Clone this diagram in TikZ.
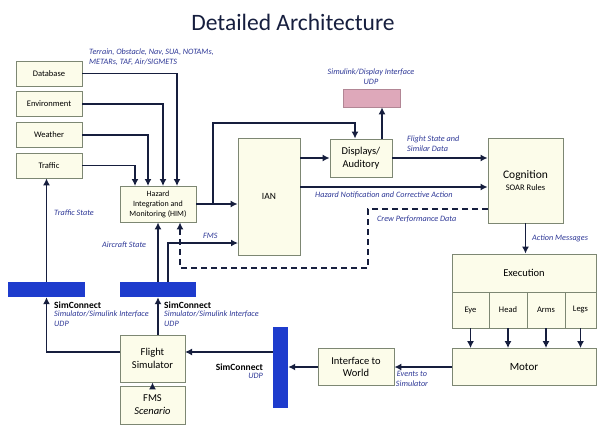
\documentclass[tikz,border=0pt]{standalone}
\usepackage{fontspec}
\setmainfont{Carlito}
\usetikzlibrary{arrows.meta,calc}
\definecolor{Dcream}{RGB}{252,252,234}
\definecolor{Dedge}{RGB}{125,135,115}
\definecolor{Dnavy}{RGB}{22,30,62}
\definecolor{Dtext}{RGB}{45,55,150}
\definecolor{Dblue}{RGB}{30,60,205}
\definecolor{Dpink}{RGB}{222,168,186}
\tikzset{%
    Dbox/.style={draw=Dedge, fill=Dcream, line width=0.8pt, inner sep=1pt, align=center, font=\fontsize{8.5}{10.5}\selectfont},
    Dbar/.style={fill=#1, inner sep=0pt}, Dbar/.default={Dblue},
    Dflow/.style={draw=Dnavy, line width=1.5pt, -{Latex[length=7pt,width=7pt]}},
    Ddash/.style={Dflow, dash pattern=on 6pt off 4pt},
    Dlabel/.style={text=Dtext, font=\fontsize{8.2}{10}\selectfont\itshape, inner sep=0pt, align=left},
    Dsim/.style={font=\fontsize{9.5}{11}\selectfont\bfseries, inner sep=0pt}
}

\begin{document}
\begin{tikzpicture}[x=1pt,y=-1pt]
    \useasboundingbox (0,0) rectangle (597,425);

    \node[font=\fontsize{23.5}{26}\selectfont, text=Dnavy] (title) at (293,22) {Detailed Architecture};

    % sources ("left column")
    \node[Dbox, minimum width=66pt, minimum height=25pt] (db)  at (49,73.5)  {Database};
    \node[Dbox, minimum width=66pt, minimum height=25pt] (env) at (49,104)   {Environment};
    \node[Dbox, minimum width=66pt, minimum height=25pt] (wx)  at (49,135)   {Weather};
    \node[Dbox, minimum width=66pt, minimum height=25pt] (trf) at (49,165.5) {Traffic};

    % processing blocks
    \node[Dbox, minimum width=76pt, minimum height=36pt, font=\fontsize{8}{10}\selectfont] (him) at (158,204)
        {Hazard\\Integration and\\Monitoring (HIM)};
    \node[Dbox, minimum width=62pt, minimum height=117pt, font=\fontsize{9.5}{11}\selectfont] (ian) at (269,196.5) {IAN};
    \node[Dbox, minimum width=62pt, minimum height=38pt, font=\fontsize{10.5}{12.5}\selectfont] (disp) at (361,158) {Displays/\\Auditory};
    \node[Dbar=Dpink, draw=Dpink!80!black, line width=0.6pt, minimum width=57pt, minimum height=18pt] (udp) at (371.5,98) {};
    \node[Dbox, minimum width=75pt, minimum height=85pt] (cog) at (525.5,180.5)
        {{\fontsize{11.5}{13}\selectfont Cognition}\\[1pt]SOAR Rules};

    % execution and motor
    \node[Dbox, minimum width=144pt, minimum height=38pt, font=\fontsize{10.5}{12}\selectfont] (exec) at (524,273) {Execution};
    \node[Dbox, minimum width=37pt, minimum height=36pt] (eye)  at (470.5,310) {Eye};
    \node[Dbox, minimum width=38pt, minimum height=36pt] (head) at (508,310)   {Head};
    \node[Dbox, minimum width=38pt, minimum height=36pt] (arms) at (546,310)   {Arms};
    \node[Dbox, minimum width=31pt, minimum height=36pt] (legs) at (580.5,310) {Legs};
    \node[Dbox, minimum width=144pt, minimum height=37pt, font=\fontsize{11}{13}\selectfont] (motor) at (524,367) {Motor};
    \node[Dbox, minimum width=76pt, minimum height=37pt, font=\fontsize{10.5}{12.5}\selectfont] (itw) at (356,367) {Interface to\\World};

    % simulator side
    \node[Dbar, minimum width=15pt, minimum height=81pt] (vbar) at (280.5,367) {};
    \node[Dbox, minimum width=65pt, minimum height=47pt, font=\fontsize{10.5}{12.5}\selectfont] (fs) at (152.5,358.5) {Flight\\Simulator};
    \node[Dbox, minimum width=65pt, minimum height=38pt, font=\fontsize{10.5}{13}\selectfont] (fms) at (152.5,405) {FMS\\\textit{Scenario}};
    \node[Dbar, minimum width=77pt, minimum height=15pt] (lbar) at (46.5,289.5) {};
    \node[Dbar, minimum width=76pt, minimum height=15pt] (mbar) at (158,289.5) {};

    % entry and turning points
    \path
        (177,186) coordinate (hA)
        (163,186) coordinate (hB)
        (148,186) coordinate (hC)
        (135,186) coordinate (hD)
        (213,204) coordinate (Nbr)
        (355,123) coordinate (Ntop)
        (382,139) coordinate (Nup)
        (300,187) coordinate (Nhaz)
        (488,209) coordinate (Ncrew)
        (368,268) coordinate (Nd1)
        (180,268) coordinate (Nd2)
        (185,352) coordinate (NfsR)
        (120,352) coordinate (NfsL)
        (168,282) coordinate (Nfms)
        (238,243) coordinate (Nfmsi);

    % connectors
    \foreach \cS/\cE in {db/hA, env/hB, wx/hC, trf/hD}
        \draw[Dflow] (\cS) -| (\cE);
    \draw[Dflow] (him.east) -- (him.east -| ian.west);
    \draw[Dflow] (Nbr) |- (Ntop) -- (Ntop |- disp.north);
    \draw[Dflow] (ian.east |- disp.west) -- (disp.west);
    \draw[Dflow] (Nup) -- (Nup |- udp.south);
    \draw[Dflow] (disp.east) -- (disp.east -| cog.west);
    \draw[Dflow] (Nhaz) -- (Nhaz -| cog.west);
    \draw[Ddash] (Ncrew) -| (Nd1) -- (Nd2) -- (Nd2 |- him.south);
    \draw[Dflow] (cog.south) -- (cog.south |- exec.north);
    \foreach \c in {eye,head,arms,legs}
        \draw[Dflow] (\c.south) -- (\c.south |- motor.north);
    \draw[Dflow] (motor) -- (itw);
    \draw[Dflow] (itw) -- (vbar);
    \draw[Dflow] (NfsR -| vbar.west) -- (NfsR);
    \draw[Dflow] (NfsL) -| (lbar.south);
    \draw[Dflow] (lbar.north) -- (lbar.north |- trf.south);
    \draw[Dflow] (mbar.south |- fs.north) -- (mbar.south);
    \draw[Dflow] (mbar.north) -- (mbar.north |- him.south);
    \draw[Dflow] (Nfms) |- (Nfmsi);
    \draw[Dflow] (fms) -- (fs);

    % labels
    \node[Dlabel, anchor=north west] (lsrc) at (89,49) {Terrain, Obstacle, Nav, SUA, NOTAMs,\\METARs, TAF, Air/SIGMETS};
    \node[Dlabel, align=center] (ludp) at (371,77) {Simulink/Display Interface\\UDP};
    \node[Dlabel, anchor=west] (lfsd) at (407,144) {Flight State and\\Similar Data};
    \node[Dlabel, anchor=west] (lhaz) at (315,195) {Hazard Notification and Corrective Action};
    \node[Dlabel, anchor=west] (lcrew) at (377,219) {Crew Performance Data};
    \node[Dlabel, anchor=west] (lact) at (532,238) {Action Messages};
    \node[Dlabel, anchor=west] (ltrf) at (54,213) {Traffic State};
    \node[Dlabel, anchor=west] (lacs) at (102,245) {Aircraft State};
    \node[Dlabel, anchor=west] (lfms) at (203,236) {FMS};
    \node[Dlabel, align=center] (levt) at (412,379) {Events to\\Simulator};
    \node[Dsim, anchor=west] (sc1) at (54,305) {SimConnect};
    \node[Dlabel, anchor=north west] (sc1l) at (54,311) {Simulator/Simulink Interface\\UDP};
    \node[Dsim, anchor=west] (sc2) at (164,305) {SimConnect};
    \node[Dlabel, anchor=north west] (sc2l) at (164,311) {Simulator/Simulink Interface\\UDP};
    \node[Dsim, anchor=east] (sc3) at (263,367) {SimConnect};
    \node[Dlabel, anchor=north east] (sc3l) at (263,373) {UDP};
\end{tikzpicture}
\end{document}
